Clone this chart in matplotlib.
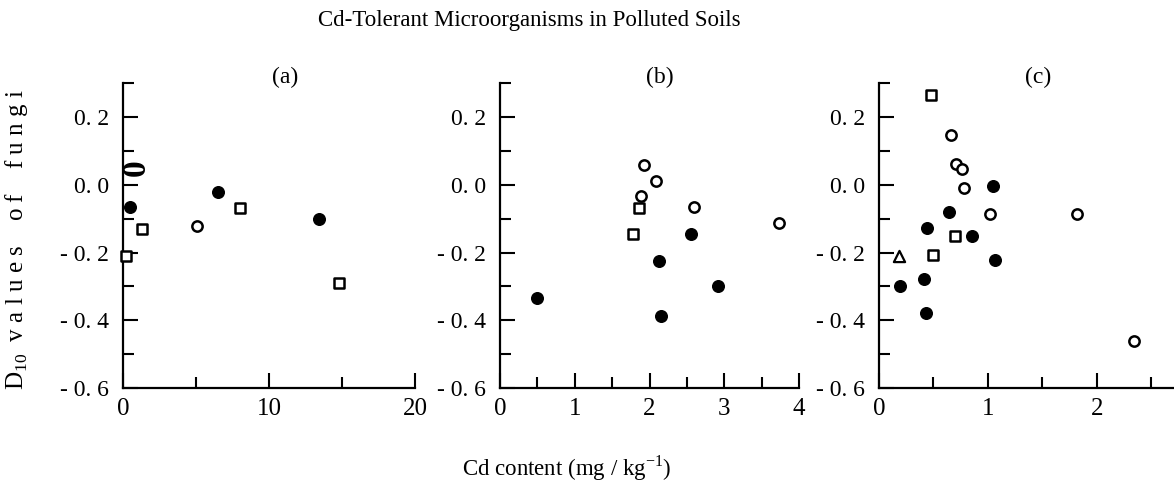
import matplotlib
matplotlib.use("Agg")
from matplotlib import pyplot as plt
from matplotlib.ticker import FixedLocator, FixedFormatter, MultipleLocator

plt.rcParams['font.family'] = ['Liberation Serif', 'DejaVu Serif']
plt.rcParams['mathtext.fontset'] = 'custom'
plt.rcParams['mathtext.rm'] = 'Liberation Serif'

# panel (a)
a_filled_x = [0.48, 6.5, 13.4]
a_filled_y = [-0.065, -0.02, -0.10]
a_open_x = [5.1]
a_open_y = [-0.12]
a_sq_x = [8.0, 1.28, 0.2, 14.8]
a_sq_y = [-0.067, -0.13, -0.21, -0.29]

# panel (b)
b_filled_x = [2.56, 2.13, 2.92, 2.16, 0.50]
b_filled_y = [-0.145, -0.224, -0.30, -0.388, -0.334]
b_open_x = [1.93, 2.09, 1.89, 2.60, 3.73]
b_open_y = [0.059, 0.012, -0.034, -0.065, -0.114]
b_sq_x = [1.86, 1.78]
b_sq_y = [-0.067, -0.145]

# panel (c)
c_filled_x = [1.05, 0.64, 0.44, 0.85, 1.07, 0.41, 0.19, 0.43]
c_filled_y = [-0.002, -0.081, -0.128, -0.151, -0.221, -0.278, -0.30, -0.379]
c_open_x = [0.66, 0.71, 0.76, 0.78, 1.02, 1.82, 2.34]
c_open_y = [0.148, 0.062, 0.047, -0.008, -0.087, -0.087, -0.46]
c_sq_x = [0.474, 0.70, 0.50]
c_sq_y = [0.266, -0.151, -0.207]
c_tri_x = [0.18]
c_tri_y = [-0.21]

y_ticks = [-0.6, -0.4, -0.2, 0.0, 0.2]
y_labels = ['- 0. 6', '- 0. 4', '- 0. 2', '0. 0', '0. 2']

panels = [
    ('(a)', 0.555, [0.1048, 0.2016, 0.2487, 0.627], (0, 20), [0, 10, 20], 5,
     a_filled_x, a_filled_y, a_open_x, a_open_y, a_sq_x, a_sq_y, [], []),
    ('(b)', 0.535, [0.4259, 0.2016, 0.2547, 0.627], (0, 4), [0, 1, 2, 3, 4], 0.5,
     b_filled_x, b_filled_y, b_open_x, b_open_y, b_sq_x, b_sq_y, [], []),
    ('(c)', 0.54, [0.7487, 0.2016, 0.2504, 0.627], (0, 2.7), [0, 1, 2], 0.5,
     c_filled_x, c_filled_y, c_open_x, c_open_y, c_sq_x, c_sq_y, c_tri_x, c_tri_y),
]

fig = plt.figure(figsize=(11.74, 4.86), dpi=100)

for (name, lx, pos, xlim, xt, xminor, fx, fy, ox, oy, sx, sy, tx, ty) in panels:
    ax = fig.add_axes(pos)
    ax.set_xlim(*xlim)
    ax.set_ylim(-0.6, 0.3)
    for s in ['top', 'right']:
        ax.spines[s].set_visible(False)
    for s in ['left', 'bottom']:
        ax.spines[s].set_linewidth(1.6)
    ax.scatter(fx, fy, s=70, c='black', edgecolors='black', zorder=3, clip_on=False)
    ax.scatter(ox, oy, s=55, facecolors='white', edgecolors='black', linewidths=1.8, zorder=3, clip_on=False)
    ax.scatter(sx, sy, s=60, marker='s', facecolors='white', edgecolors='black', linewidths=1.8, zorder=3, clip_on=False)
    if tx:
        ax.scatter(tx, ty, s=65, marker='^', facecolors='white', edgecolors='black', linewidths=1.6, zorder=3, clip_on=False)
    ax.yaxis.set_major_locator(FixedLocator(y_ticks))
    ax.yaxis.set_major_formatter(FixedFormatter(y_labels))
    ax.yaxis.set_minor_locator(MultipleLocator(0.1))
    ax.set_xticks(xt)
    ax.set_xticklabels([str(v) for v in xt])
    ax.xaxis.set_minor_locator(MultipleLocator(xminor))
    ax.tick_params(which='major', direction='in', length=11, width=1.5, labelsize=17)
    ax.tick_params(axis='y', which='major', pad=10)
    ax.tick_params(axis='x', which='major', pad=7, labelsize=18)
    ax.tick_params(which='minor', direction='in', length=8, width=1.5)
    ax.text(lx, 1.02, name, transform=ax.transAxes, fontsize=17, ha='center', va='center')
    if name == '(a)':
        ax.text(0.9, 0.05, '0', rotation=90, fontsize=24, fontweight='bold',
                ha='center', va='center')

fig.text(0.451, 0.958, 'Cd-Tolerant Microorganisms in Polluted Soils', ha='center', va='center', fontsize=16.5)
fig.text(0.483, 0.036, 'Cd content (mg / kg$^{\\mathrm{-1}}$)', ha='center', va='center', fontsize=16.5)
fig.text(0.014, 0.506, 'D$_{\\mathrm{10}}$  v a l u e s    o f    f u n g i', rotation=90,
         ha='center', va='center', fontsize=18)

fig.savefig('out.png', dpi=100)
